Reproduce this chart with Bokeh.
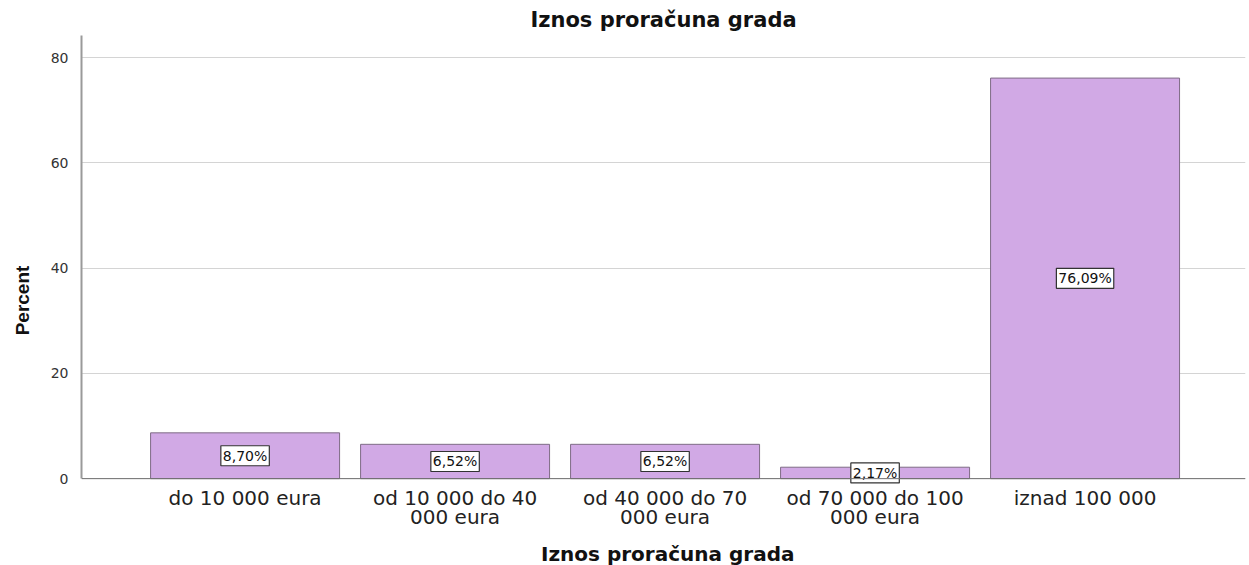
from bokeh.plotting import figure
from bokeh.models import Range1d, FixedTicker, Label, Span
from bokeh.core.properties import value
from bokeh.embed import file_html
from bokeh.resources import INLINE

# ---- data ----
categories = ["do 10 000 eura", "od 10 000 do 40\n000 eura", "od 40 000 do 70\n000 eura",
              "od 70 000 do 100\n000 eura", "iznad 100 000"]
percent = [8.70, 6.52, 6.52, 2.17, 76.09]
value_labels = ["8,70%", "6,52%", "6,52%", "2,17%", "76,09%"]
y_ticks = [0, 20, 40, 60, 80]
x_title = "Iznos proračuna grada"
chart_title = "Iznos proračuna grada"

xs = list(range(len(categories)))
x_lo, x_hi = -0.779, 4.764
y_lo, y_hi = -16.5, 84.18

p = figure(width=1249, height=565, output_backend="svg", toolbar_location=None,
           x_range=Range1d(x_lo, x_hi), y_range=Range1d(y_lo, y_hi),
           min_border_left=81, min_border_right=4, min_border_top=35, min_border_bottom=0,
           title=chart_title)

p.title.align = "center"
p.title.text_font = "DejaVu Sans"
p.title.text_font_size = "21px"
p.title.text_font_style = "bold"
p.title.text_color = "#111111"
p.title.standoff = 8

p.outline_line_color = None
p.background_fill_color = "white"
p.border_fill_color = "white"

p.vbar(x=xs, top=percent, width=0.9, bottom=0,
       fill_color="#D1A9E5", line_color="#7E6C85", line_width=1)

for x, v, t in zip(xs, percent, value_labels):
    p.add_layout(Label(x=x, y=v / 2, text=t, text_align="center", text_baseline="middle",
                       text_font="DejaVu Sans", text_font_size="14px", text_color="#111111",
                       background_fill_color="white", border_line_color="#333333",
                       border_line_width=1.2, padding=2))

# x axis line at 0
p.add_layout(Span(location=0, dimension="width", line_color="#707070", line_width=1))

# category labels below the axis line
p.text(x=xs, y=[0] * len(xs), text=categories, text_align="center", text_baseline="top",
       y_offset=7, text_font=value("DejaVu Sans"), text_font_size="20px",
       text_color="#222222", text_line_height=0.8)

# x axis title
p.text(x=[(x_lo + x_hi) / 2 + 0.02], y=[0], text=[x_title], text_align="center",
       text_baseline="middle", y_offset=75, text_font=value("DejaVu Sans"),
       text_font_size="20px", text_font_style="bold", text_color="#111111")

p.xaxis.visible = False

# y axis
p.yaxis.ticker = FixedTicker(ticks=y_ticks)
p.yaxis.bounds = (0, y_hi)
p.yaxis.major_label_text_font = "DejaVu Sans"
p.yaxis.major_label_text_font_size = "14px"
p.yaxis.major_label_text_color = "#333333"
p.yaxis.major_label_standoff = 7
p.yaxis.major_tick_line_color = None
p.yaxis.minor_tick_line_color = None
p.yaxis.axis_line_color = "#9a9a9a"
p.yaxis.axis_line_width = 2
p.yaxis.axis_label = "Percent"
p.yaxis.axis_label_text_font = "Liberation Sans"
p.yaxis.axis_label_text_font_size = "19px"
p.yaxis.axis_label_text_font_style = "bold"
p.yaxis.axis_label_text_color = "#111111"
p.yaxis.axis_label_standoff = 15

p.xgrid.grid_line_color = None
p.ygrid.grid_line_color = "#d4d4d4"
p.ygrid.grid_line_width = 1

open("out.html", "w").write(file_html(p, INLINE))
